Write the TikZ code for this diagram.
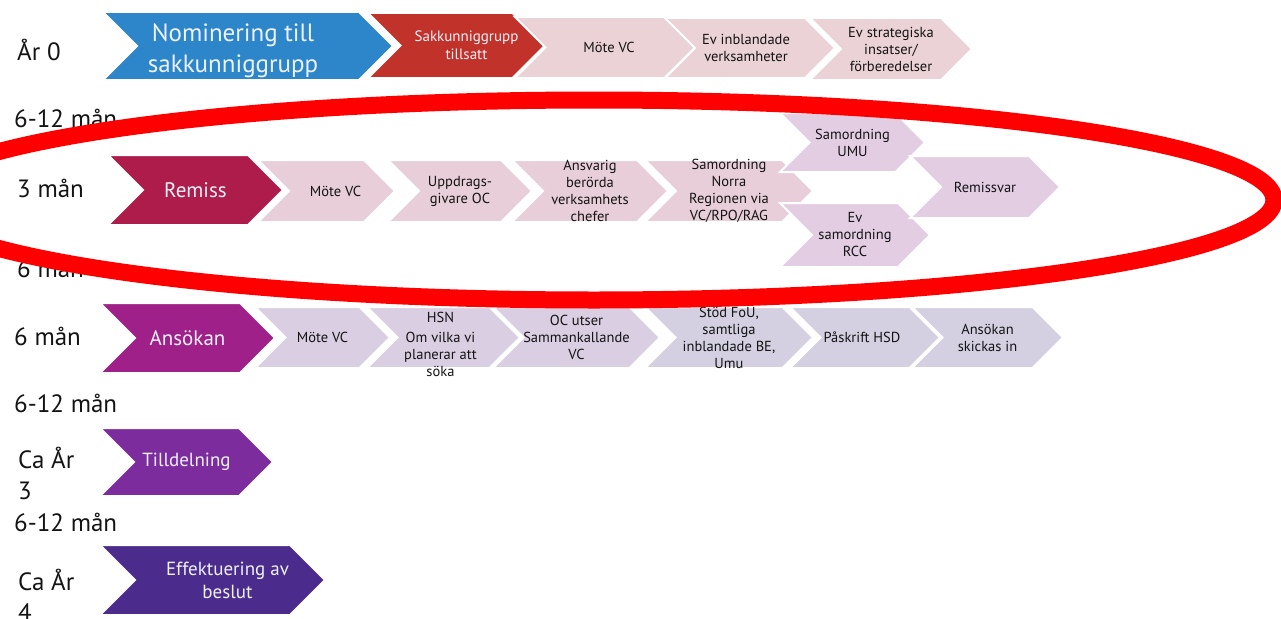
\documentclass[tikz,border=0pt]{standalone}
\usepackage{fontspec}
\setmainfont{PT Sans}
\usepackage{tikz}

\definecolor{nomblue}{HTML}{2C86C9}
\definecolor{sakkred}{HTML}{C1322A}
\definecolor{pinkA}{HTML}{EBD2D6}
\definecolor{remissred}{HTML}{AE1C4C}
\definecolor{pinkB}{HTML}{E8CED8}
\definecolor{lilacB}{HTML}{E3CDE3}
\definecolor{ansokpurple}{HTML}{9E2088}
\definecolor{lilacC}{HTML}{DACEE2}
\definecolor{lilacD}{HTML}{D4D0E1}
\definecolor{tillpurple}{HTML}{7D2C9E}
\definecolor{effindigo}{HTML}{4B2B8B}
\definecolor{paletext}{HTML}{EEF2F8}
\definecolor{inktext}{HTML}{141414}

% chevron: name, left, tip, top, bottom, fill, text style, text
\newcommand{\chevron}[8]{%
    \pgfmathsetmacro\chevd{(#5-#4)/2}%
    \pgfmathsetmacro\chevm{(#4+#5)/2}%
    \fill[#6, draw=white, line width=2pt]
        (#2, #4) -- ({#3-\chevd}, #4) -- (#3, \chevm) -- ({#3-\chevd}, #5)
        -- (#2, #5) -- ({#2+\chevd}, \chevm) -- cycle;
    \node[#7] (#1) at ({(#2+#3)/2}, \chevm) {#8};
}

\begin{document}
\begin{tikzpicture}[x = 1pt, y = -1pt,
        steptext/.style = {align = center, text = inktext, inner sep = 0pt, font = \fontsize{14.5}{17}\selectfont},
        mainlabel/.style = {align = center, text = paletext, inner sep = 0pt},
        sidelabel/.style = {anchor = west, align = left, text = inktext, inner sep = 0pt, font = \fontsize{25}{31}\selectfont}]
    \useasboundingbox (0, 0) rectangle (1281, 618);

    % side labels
    \node[sidelabel] (ar0) at (17, 50) {År 0};
    \node[sidelabel] (manA) at (14, 118) {6-12 mån};
    \node[sidelabel] (man3) at (17, 188) {3 mån};
    \node[sidelabel] (manB) at (17, 268) {6 mån};
    \node[sidelabel] (man6) at (14, 336) {6 mån};
    \node[sidelabel] (manC) at (14, 403) {6-12 mån};
    \node[sidelabel] (ar3) at (18, 473) {Ca År\\3};
    \node[sidelabel] (manD) at (14, 522) {6-12 mån};
    \node[sidelabel] (ar4) at (18, 595) {Ca År\\4};

    % row 0
    \chevron{nom}{103}{393}{12}{80}{nomblue}{mainlabel, xshift = -15, yshift = -5, font = \fontsize{25}{31}\selectfont}{Nominering till\\sakkunniggrupp}
    \chevron{sakk}{368}{545}{13}{78}{sakkred}{mainlabel, xshift = 10, font = \fontsize{15}{18}\selectfont}{Sakkunniggrupp\\tillsatt}
    \chevron{moteA}{515}{695}{17}{78}{pinkA}{steptext, xshift = 4}{Möte VC}
    \chevron{evinbl}{665}{835}{18}{78}{pinkA}{steptext, xshift = -4}{Ev inblandade\\verksamheter}
    \chevron{evstrat}{810}{972}{18}{80}{pinkA}{steptext}{Ev strategiska\\insatser/\\förberedelser}

    % row 1
    \chevron{remiss}{108}{283}{155}{225}{remissred}{mainlabel, font = \fontsize{21}{24}\selectfont}{Remiss}
    \chevron{moteB}{258}{395}{160}{222}{pinkB}{steptext, xshift = 9}{Möte VC}
    \chevron{uppdr}{388}{532}{160}{222}{pinkB}{steptext}{Uppdrags-\\givare OC}
    \chevron{ansv}{512}{668}{160}{222}{pinkB}{steptext}{Ansvarig\\berörda\\verksamhets\\chefer}
    \chevron{norra}{645}{813}{160}{222}{pinkB}{steptext}{Samordning\\Norra\\Regionen via\\VC/RPO/RAG}
    \chevron{umu}{780}{925}{113}{172}{lilacB}{steptext}{Samordning\\UMU}
    \chevron{rcc}{780}{930}{203}{267}{lilacB}{steptext}{Ev\\samordning\\RCC}
    \chevron{remissvar}{910}{1060}{156}{218}{lilacB}{steptext}{Remissvar}

    % row 2
    \chevron{ansokan}{100}{275}{303}{373}{ansokpurple}{mainlabel, font = \fontsize{21}{24}\selectfont}{Ansökan}
    \chevron{moteC}{255}{390}{307}{368}{lilacC}{steptext}{Möte VC}
    \chevron{hsn}{367}{520}{307}{368}{lilacC}{steptext, xshift = -3, yshift = -7}{HSN\\[3pt]Om vilka vi\\planerar att\\söka}
    \chevron{ocutser}{493}{660}{307}{368}{lilacC}{steptext}{OC utser\\Sammankallande\\VC}
    \chevron{stod}{645}{813}{307}{368}{lilacD}{steptext}{Stöd FoU,\\samtliga\\inblandade BE,\\Umu}
    \chevron{paskrift}{790}{940}{307}{368}{lilacD}{steptext, xshift = -3}{Påskrift HSD}
    \chevron{skickas}{912}{1063}{307}{368}{lilacD}{steptext}{Ansökan\\skickas in}

    % rows 3 and 4
    \chevron{tilldel}{100}{273}{428}{496}{tillpurple}{mainlabel, font = \fontsize{19}{23}\selectfont}{Tilldelning}
    \chevron{effekt}{100}{325}{545}{615}{effindigo}{mainlabel, xshift = 15, font = \fontsize{19}{23}\selectfont}{Effektuering av\\beslut}

    % highlight
    \draw[red, line width = 17pt] (594, 200) ellipse [x radius = 680, y radius = 100];
\end{tikzpicture}
\end{document}
